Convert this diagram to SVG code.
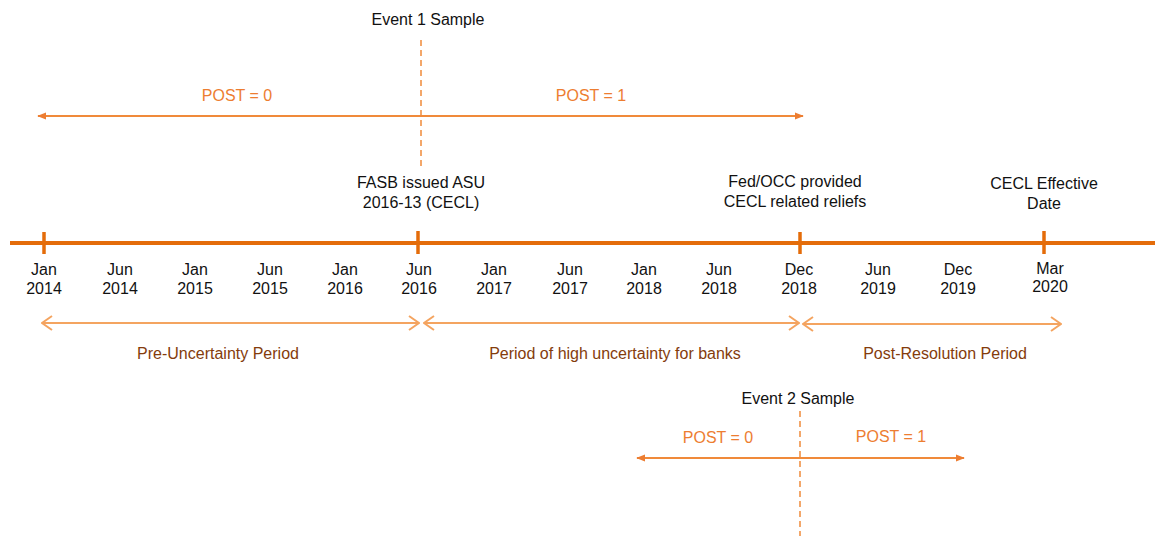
<svg xmlns="http://www.w3.org/2000/svg" width="1155" height="536" viewBox="0 0 1155 536">
  <style>
    text { font-family: "Liberation Sans", Arial, sans-serif; font-size: 16px; text-anchor: middle; }
    .dark { fill: #111111; }
    .post { fill: #ED7D31; }
    .period { fill: #843C0C; }
    .axis { stroke: #E46C0A; stroke-width: 4; fill: none; }
    .tick { stroke: #E46C0A; stroke-width: 3.5; }
    .dash { stroke: #F08A3A; stroke-width: 1.5; stroke-dasharray: 6 4; fill: none; }
    .post-arrow { stroke: #F08A3A; stroke-width: 2; fill: none; }
    .span-arrow { stroke: #F4A460; stroke-width: 2; fill: none; }
  </style>
  <defs>
    <marker id="tri" viewBox="0 0 10 10" refX="9" refY="5" markerWidth="9" markerHeight="9" orient="auto-start-reverse" markerUnits="userSpaceOnUse">
      <path d="M0,1 L10,5 L0,9 Z" fill="#ED7D31"/>
    </marker>
    <marker id="chev" viewBox="0 0 12 16" refX="11" refY="8" markerWidth="12" markerHeight="16" orient="auto-start-reverse" markerUnits="userSpaceOnUse">
      <path d="M1,1 L11,8 L1,15" fill="none" stroke="#F4A460" stroke-width="2"/>
    </marker>
  </defs>

  <!-- connectors: sample windows, timeline axis, period spans -->
  <g id="connectors">
    <line class="dash" x1="421" y1="40" x2="421" y2="166"/>
    <line class="post-arrow" x1="38" y1="116" x2="803" y2="116" marker-start="url(#tri)" marker-end="url(#tri)"/>

    <line class="axis" x1="10" y1="243" x2="1155" y2="243"/>
    <line class="tick" x1="44" y1="232" x2="44" y2="254"/>
    <line class="tick" x1="418" y1="231" x2="418" y2="254"/>
    <line class="tick" x1="800" y1="232" x2="800" y2="254"/>
    <line class="tick" x1="1044" y1="231" x2="1044" y2="254"/>

    <line class="span-arrow" x1="42" y1="323" x2="419" y2="323" marker-start="url(#chev)" marker-end="url(#chev)"/>
    <line class="span-arrow" x1="424" y1="323" x2="799" y2="323" marker-start="url(#chev)" marker-end="url(#chev)"/>
    <line class="span-arrow" x1="803" y1="324" x2="1061" y2="324" marker-start="url(#chev)" marker-end="url(#chev)"/>

    <line class="dash" x1="800" y1="411" x2="800" y2="536"/>
    <line class="post-arrow" x1="637" y1="458" x2="964" y2="458" marker-start="url(#tri)" marker-end="url(#tri)"/>
  </g>

  <!-- event 1 sample window -->
  <g id="event1">
    <text class="dark" x="428" y="25">Event 1 Sample</text>
    <text class="post" x="237" y="101">POST = 0</text>
    <text class="post" x="591" y="101">POST = 1</text>
  </g>

  <!-- milestone events -->
  <g id="fasb">
    <text class="dark" x="421" y="188">FASB issued ASU</text>
    <text class="dark" x="421" y="208">2016-13 (CECL)</text>
  </g>
  <g id="fed-occ">
    <text class="dark" x="795" y="187">Fed/OCC provided</text>
    <text class="dark" x="795" y="207">CECL related reliefs</text>
  </g>
  <g id="cecl-effective">
    <text class="dark" x="1044" y="189">CECL Effective</text>
    <text class="dark" x="1044" y="209">Date</text>
  </g>

  <!-- date labels -->
  <g id="dates" class="dark">
    <text x="44" y="275">Jan</text><text x="44" y="294">2014</text>
    <text x="120" y="275">Jun</text><text x="120" y="294">2014</text>
    <text x="195" y="275">Jan</text><text x="195" y="294">2015</text>
    <text x="270" y="275">Jun</text><text x="270" y="294">2015</text>
    <text x="345" y="275">Jan</text><text x="345" y="294">2016</text>
    <text x="419" y="275">Jun</text><text x="419" y="294">2016</text>
    <text x="494" y="275">Jan</text><text x="494" y="294">2017</text>
    <text x="570" y="275">Jun</text><text x="570" y="294">2017</text>
    <text x="644" y="275">Jan</text><text x="644" y="294">2018</text>
    <text x="719" y="275">Jun</text><text x="719" y="294">2018</text>
    <text x="799" y="275">Dec</text><text x="799" y="294">2018</text>
    <text x="878" y="275">Jun</text><text x="878" y="294">2019</text>
    <text x="958" y="275">Dec</text><text x="958" y="294">2019</text>
    <text x="1050" y="274">Mar</text><text x="1050" y="292">2020</text>
  </g>

  <!-- period labels -->
  <g id="periods">
    <text class="period" x="218" y="359">Pre-Uncertainty Period</text>
    <text class="period" x="615" y="359">Period of high uncertainty for banks</text>
    <text class="period" x="945" y="359">Post-Resolution Period</text>
  </g>

  <!-- event 2 sample window -->
  <g id="event2">
    <text class="dark" x="798" y="404">Event 2 Sample</text>
    <text class="post" x="718" y="443">POST = 0</text>
    <text class="post" x="891" y="442">POST = 1</text>
  </g>
</svg>
